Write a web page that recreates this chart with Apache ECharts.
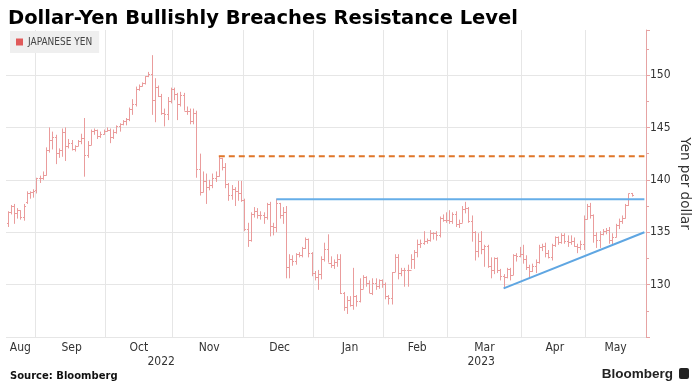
<!DOCTYPE html>
<html>
<head>
<meta charset="utf-8">
<script src="https://cdn.jsdelivr.net/npm/echarts@6/dist/echarts.min.js"></script>
<style>
html,body{margin:0;padding:0;background:#fff;}
#chart{width:693px;height:391px;}
</style>
</head>
<body>
<div id="chart"></div>
<script>
// ---------------- DATA ----------------
const titleText = 'Dollar-Yen Bullishly Breaches Resistance Level';
const seriesName = 'JAPANESE YEN';
const axisName = 'Yen per dollar';
const sourceText = 'Source: Bloomberg';
const axisStart = '2022-08-19';
const axisEnd = '2023-05-25';
const monthNames = ['Jan','Feb','Mar','Apr','May','Jun','Jul','Aug','Sep','Oct','Nov','Dec'];
const yTicks = {min: 125, max: 154.3, interval: 5};

// daily OHLC, Aug 19 2022 .. May 19 2023 (weekdays)
const openVals = [
  135.9,136.9,137.5,136.8,137.1,136.5,137.9,138.7,138.8,
  139.0,140.2,140.2,140.5,142.8,143.8,144.1,142.6,142.8,144.6,143.2,143.5,142.9,143.2,143.7,144.0,142.4,143.3,144.7,144.8,144.2,144.4,
  144.7,144.8,144.1,144.6,145.1,145.3,145.6,145.8,146.8,147.2,148.7,149.0,149.2,149.9,150.1,147.6,148.9,148.0,146.4,146.3,147.5,
  148.7,148.2,147.2,148.1,146.6,146.6,145.6,146.4,141.0,138.8,139.9,139.3,139.5,140.2,140.4,142.1,141.2,139.6,138.6,139.1,138.9,138.7,
  138.1,135.3,134.3,136.7,137.0,136.6,136.6,136.5,137.7,135.6,135.5,137.8,136.6,136.9,131.7,132.4,132.3,132.9,132.8,133.5,134.4,133.0,
  131.1,130.7,131.0,132.4,133.4,132.1,131.9,132.2,132.4,129.2,127.9,128.5,128.1,128.9,128.4,129.6,130.7,130.2,129.2,130.2,129.9,130.4,
  130.1,128.9,128.7,131.2,132.6,131.1,131.4,131.4,131.4,132.4,133.1,133.9,134.0,134.2,134.3,134.9,134.9,134.7,136.4,136.2,
  136.2,136.1,136.7,135.8,135.9,137.2,137.3,136.1,135.0,133.2,134.2,133.4,133.7,131.8,131.4,132.5,131.4,130.8,130.7,131.5,130.9,132.8,132.7,
  132.9,132.4,131.7,131.3,131.8,132.2,133.6,133.7,133.0,132.6,133.8,134.5,134.1,134.7,134.2,134.1,134.2,133.7,133.6,133.9,
  136.3,137.5,136.6,134.7,134.3,134.8,135.1,135.2,134.3,134.5,135.7,136.1,136.4,137.6,138.7
];
const highVals = [
  137.0,137.6,137.7,137.3,137.1,137.7,138.9,138.9,139.1,
  140.2,140.4,140.8,143.1,145.0,144.6,144.3,143.0,144.9,145.0,143.9,143.8,143.3,143.8,144.4,145.9,143.7,144.8,144.9,144.8,144.6,144.8,
  145.0,144.9,144.8,145.2,145.4,145.7,145.9,146.9,147.7,148.9,149.1,149.3,149.9,150.3,151.9,149.7,149.0,148.2,146.8,147.9,148.8,
  148.8,148.3,148.4,148.3,147.0,146.8,146.8,146.6,142.5,140.8,140.6,140.0,140.6,140.8,142.25,142.1,141.6,139.7,139.5,139.3,139.9,139.9,
  138.2,135.9,136.9,137.4,137.3,137.0,136.9,137.8,137.9,135.9,138.2,137.8,137.4,137.5,132.9,132.8,133.0,133.1,133.6,134.5,134.4,133.1,
  131.3,131.4,132.7,134.0,134.8,132.7,132.4,132.9,132.9,129.3,128.9,128.9,131.6,129.0,130.6,130.9,130.8,130.4,130.6,130.6,130.5,130.5,
  130.2,129.0,131.2,132.9,132.9,131.6,131.6,131.9,132.9,133.3,134.3,134.3,135.1,134.4,135.2,135.0,135.1,136.5,136.7,136.9,
  137.1,136.9,137.0,136.2,137.5,137.9,137.4,136.6,135.1,134.9,135.1,133.8,133.8,132.6,132.6,132.6,131.5,131.0,131.6,131.6,132.9,133.0,133.6,
  133.8,132.8,131.9,132.0,132.4,133.8,133.9,134.0,133.3,133.9,134.6,134.6,134.9,134.9,134.7,134.7,134.5,133.9,134.2,136.6,
  137.7,137.8,136.7,135.0,135.1,135.3,135.4,135.5,134.9,135.8,136.3,136.6,137.7,138.7,138.75
];
const lowVals = [
  135.5,136.7,135.8,136.3,136.2,136.1,137.7,138.2,138.3,
  138.7,139.7,140.0,140.4,142.6,142.9,141.5,142.1,142.2,141.8,143.0,142.8,142.7,143.2,143.4,140.3,142.1,143.3,144.3,143.9,144.0,144.3,
  144.6,143.5,143.9,144.4,144.6,145.2,145.2,145.6,146.2,147.0,148.5,148.9,149.1,149.8,146.2,145.5,147.9,146.2,145.1,145.7,147.3,
  147.6,145.7,147.0,146.6,146.2,145.3,145.3,140.2,138.5,138.8,137.7,139.0,139.2,139.8,140.3,140.9,139.2,138.0,138.1,137.5,138.0,137.9,
  135.1,133.6,134.1,136.4,136.3,136.2,135.8,136.2,134.6,134.7,135.0,136.3,135.8,130.6,130.6,131.8,131.9,132.6,132.6,133.4,132.6,130.8,
  130.4,129.5,130.5,132.2,132.1,131.6,131.5,131.7,129.1,127.5,127.2,127.9,127.6,127.9,128.3,129.6,129.8,129.2,129.0,129.5,129.6,129.7,
  128.6,128.1,128.1,131.2,130.5,130.8,129.8,129.8,131.5,131.5,132.6,133.5,133.8,133.9,134.1,134.3,134.2,134.5,136.0,135.9,
  135.8,135.8,135.5,135.4,135.9,136.8,135.9,134.1,132.3,132.6,132.9,131.7,131.6,130.6,131.0,131.1,130.4,129.6,130.6,130.4,130.9,132.2,132.6,
  132.0,131.4,130.6,131.2,131.1,132.0,133.2,132.6,132.5,132.3,133.6,133.8,133.9,133.9,133.6,133.8,133.6,133.0,133.3,133.3,
  136.2,136.3,134.0,133.5,133.5,134.7,134.8,133.9,133.7,134.5,135.3,135.8,136.3,137.5,138.4
];
const closeVals = [
  136.9,137.5,136.8,137.1,136.5,137.5,138.7,138.8,138.9,
  140.2,140.2,140.5,142.8,143.8,144.1,142.6,142.8,144.6,143.2,143.5,142.9,143.2,143.7,144.0,142.4,143.3,144.7,144.8,144.2,144.4,144.7,
  144.8,144.1,144.6,145.1,145.3,145.6,145.8,146.8,147.2,148.7,149.0,149.2,149.9,150.1,147.6,148.9,148.0,146.4,146.3,147.5,148.7,
  148.2,147.2,148.1,146.6,146.6,145.6,146.4,141.0,138.8,139.9,139.3,139.5,140.2,140.4,142.1,141.2,139.6,138.6,139.1,138.9,138.7,138.1,
  135.3,134.3,136.7,137.0,136.6,136.6,136.5,137.7,135.6,135.5,137.8,136.6,136.9,131.7,132.4,132.3,132.9,132.8,133.5,134.4,133.0,131.1,
  130.7,131.0,132.4,133.4,132.1,131.9,132.2,132.4,129.2,127.9,128.5,128.1,128.9,128.4,129.6,130.7,130.2,129.2,130.2,129.9,130.4,130.1,
  128.9,128.7,131.2,132.6,131.1,131.4,131.4,131.4,132.4,133.1,133.9,134.0,134.2,134.3,134.9,134.9,134.7,136.4,136.2,136.2,
  136.1,136.7,135.8,135.9,137.2,137.3,136.1,135.0,133.2,134.2,133.4,133.7,131.8,131.4,132.5,131.4,130.8,130.7,131.5,130.9,132.8,132.7,132.9,
  132.4,131.7,131.3,131.8,132.2,133.6,133.7,133.0,132.6,133.8,134.5,134.1,134.7,134.2,134.1,134.2,133.7,133.6,133.9,136.3,
  137.5,136.6,134.7,134.3,134.8,135.1,135.2,134.3,134.5,135.7,136.1,136.4,137.6,138.7,138.6
];

// annotation lines [date, value]
const resistanceOrange = [['2022-11-21', 142.25], ['2023-05-25', 142.25]];
const resistanceBlue = [['2022-12-15', 138.15], ['2023-05-25', 138.15]];
const supportTrend = [['2023-03-24', 129.64], ['2023-05-25', 135.0]];

// ---------------- CATEGORIES (weekdays) ----------------
function pad(n){return n<10?'0'+n:''+n;}
const categories = [];
(function(){
  let d = new Date(axisStart + 'T00:00:00Z');
  const end = new Date(axisEnd + 'T00:00:00Z');
  while (d <= end) {
    const wd = d.getUTCDay();
    if (wd !== 0 && wd !== 6) {
      categories.push(d.getUTCFullYear() + '-' + pad(d.getUTCMonth()+1) + '-' + pad(d.getUTCDate()));
    }
    d = new Date(d.getTime() + 86400000);
  }
})();

// month starts, month label positions, year label positions
const monthStart = new Set();
const monthLabelIdx = new Set();
const yearLabelIdx = new Set();
(function(){
  const groupBy = (keyFn, outSet) => {
    let a = 0;
    for (let i = 1; i <= categories.length; i++) {
      if (i === categories.length || keyFn(categories[i]) !== keyFn(categories[a])) {
        outSet.add(Math.round((a + i - 1) / 2));
        a = i;
      }
    }
  };
  for (let i = 1; i < categories.length; i++) {
    if (categories[i].slice(0,7) !== categories[i-1].slice(0,7)) monthStart.add(i);
  }
  groupBy(s => s.slice(0,7), monthLabelIdx);
  groupBy(s => s.slice(0,4), yearLabelIdx);
})();

const ohlc = closeVals.map((c, i) => [i, openVals[i], highVals[i], lowVals[i], c]);

// ---------------- CHART ----------------
const narrow = "'Liberation Sans Narrow','DejaVu Sans Condensed','Arial Narrow',sans-serif";
const barColor = '#ea9c9c';

const chart = echarts.init(document.getElementById('chart'), null, {renderer: 'canvas'});
chart.setOption({
  animation: false,
  backgroundColor: '#ffffff',
  title: {
    text: titleText,
    left: 3, top: 4,
    textStyle: {fontFamily: 'DejaVu Sans', fontWeight: 'bold', fontSize: 19.5, color: '#000'}
  },
  legend: {
    data: [seriesName],
    left: 10, top: 31,
    backgroundColor: '#efefef',
    padding: [6, 7, 6, 6],
    itemWidth: 7, itemHeight: 7, itemGap: 4,
    icon: 'rect',
    textStyle: {fontFamily: narrow, fontSize: 10, color: '#444', padding: [1,0,0,0]}
  },
  grid: {left: 6, right: 47, top: 30, bottom: 54, containLabel: false, outerBoundsMode: 'none'},
  xAxis: [{
    type: 'category',
    data: categories,
    boundaryGap: true,
    axisLine: {show: false},
    axisTick: {show: false},
    splitLine: {show: true, interval: (i) => monthStart.has(i), lineStyle: {color: '#e6e6e6', width: 1}},
    axisLabel: {
      interval: (i) => monthLabelIdx.has(i),
      formatter: (v) => monthNames[parseInt(v.slice(5,7),10)-1],
      fontFamily: narrow, fontSize: 12, color: '#333', margin: 5, hideOverlap: false
    }
  }, {
    type: 'category',
    data: categories,
    position: 'bottom',
    offset: 14,
    boundaryGap: true,
    axisLine: {show: false},
    axisTick: {show: false},
    splitLine: {show: false},
    axisLabel: {
      interval: (i) => yearLabelIdx.has(i),
      formatter: (v) => v.slice(0,4),
      fontFamily: narrow, fontSize: 12, color: '#333', margin: 5, hideOverlap: false
    }
  }],
  yAxis: {
    type: 'value',
    position: 'right',
    min: yTicks.min, max: yTicks.max, interval: yTicks.interval,
    axisLine: {show: true, lineStyle: {color: '#e6a3a3', width: 1}},
    axisTick: {show: true, length: 4, lineStyle: {color: '#e6a3a3'}},
    minorTick: {show: true, splitNumber: 2, length: 3, lineStyle: {color: '#e6a3a3'}},
    splitLine: {show: true, lineStyle: {color: ['#e6e6e6','#e6e6e6','#e6e6e6','#e6e6e6','#e6e6e6','#e6e6e6','rgba(0,0,0,0)'], width: 1}},
    axisLabel: {showMinLabel: false, showMaxLabel: false, fontFamily: narrow, fontSize: 12, color: '#333', margin: 4},
    name: axisName,
    nameLocation: 'middle',
    nameRotate: -90,
    nameGap: 31,
    nameMoveOverlap: false,
    nameTextStyle: {fontFamily: 'DejaVu Sans', fontSize: 13.5, color: '#333'}
  },
  series: [{
    name: seriesName,
    type: 'custom',
    itemStyle: {color: '#e05a5a'},
    data: ohlc,
    dimensions: ['i','open','high','low','close'],
    encode: {x: 0, y: [1,2,3,4]},
    renderItem: function (params, api) {
      const i = api.value(0);
      const hi = api.coord([i, api.value(2)]);
      const lo = api.coord([i, api.value(3)]);
      const op = api.coord([i, api.value(1)]);
      const cl = api.coord([i, api.value(4)]);
      const x = Math.round(hi[0]) + 0.5;
      const w = 1.5;
      const style = {stroke: barColor, lineWidth: 1, fill: null};
      return {
        type: 'group',
        children: [
          {type: 'line', shape: {x1: x, y1: hi[1], x2: x, y2: lo[1]}, style: style},
          {type: 'line', shape: {x1: x - w, y1: Math.round(op[1]) + 0.5, x2: x, y2: Math.round(op[1]) + 0.5}, style: style},
          {type: 'line', shape: {x1: x, y1: Math.round(cl[1]) + 0.5, x2: x + w, y2: Math.round(cl[1]) + 0.5}, style: style}
        ]
      };
    },
    z: 2
  }, {
    name: 'orange',
    type: 'line',
    data: resistanceOrange,
    symbol: 'none',
    lineStyle: {color: '#e07628', width: 2, type: [6, 4]},
    z: 3, silent: true
  }, {
    name: 'blue',
    type: 'line',
    data: resistanceBlue,
    symbol: 'none',
    lineStyle: {color: '#66aee8', width: 2},
    z: 3, silent: true
  }, {
    name: 'trend',
    type: 'line',
    data: supportTrend,
    symbol: 'none',
    lineStyle: {color: '#5fa6e2', width: 2},
    z: 3, silent: true
  }],
  graphic: [{
    type: 'text', left: 10, top: 371,
    style: {text: sourceText, fontFamily: 'DejaVu Sans', fontWeight: 'bold', fontSize: 10, fill: '#111'}
  }, {
    type: 'text', right: 20, top: 367,
    style: {text: 'Bloomberg', fontFamily: "'Liberation Sans', Arial, sans-serif", fontWeight: 'bold', fontSize: 13.5, fill: '#222'}
  }, {
    type: 'rect', right: 4, top: 368,
    shape: {width: 10, height: 11, r: 2},
    style: {fill: '#222'}
  }]
});
</script>
</body>
</html>
